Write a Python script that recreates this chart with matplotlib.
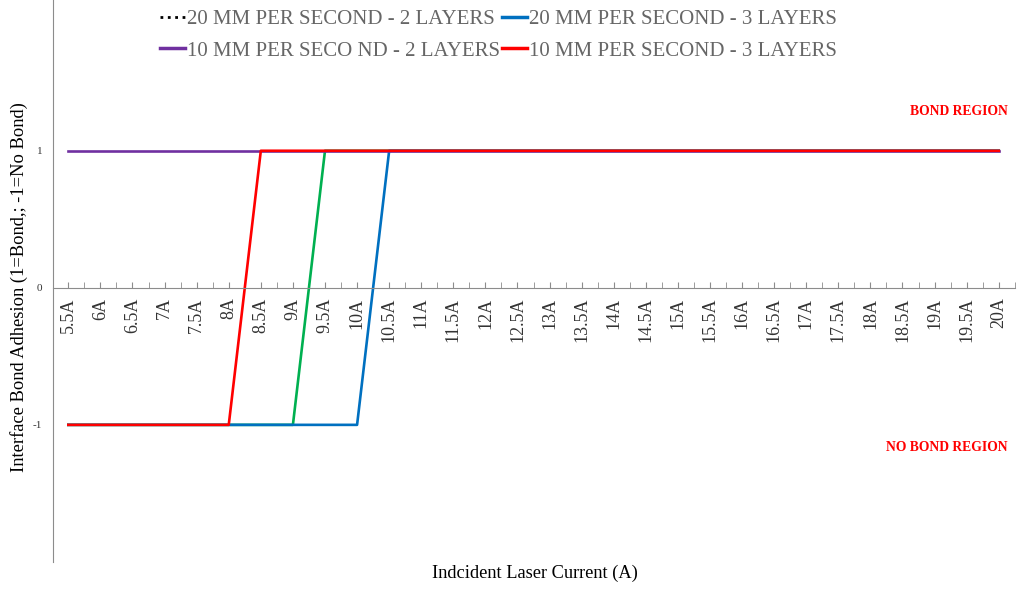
import matplotlib
matplotlib.use("Agg")
import matplotlib.pyplot as plt
from matplotlib.lines import Line2D
from matplotlib.ticker import MultipleLocator

plt.rcParams['font.family'] = ['Liberation Serif', 'DejaVu Serif']

currents = ["5.5A", "6A", "6.5A", "7A", "7.5A", "8A", "8.5A", "9A", "9.5A", "10A",
            "10.5A", "11A", "11.5A", "12A", "12.5A", "13A", "13.5A", "14A", "14.5A", "15A",
            "15.5A", "16A", "16.5A", "17A", "17.5A", "18A", "18.5A", "19A", "19.5A", "20A"]

# 1 = bond, -1 = no bond
mm20_2l = [-1, -1, -1, -1, -1, -1, -1, -1, 1, 1, 1, 1, 1, 1, 1,
           1, 1, 1, 1, 1, 1, 1, 1, 1, 1, 1, 1, 1, 1, 1]
mm20_3l = [-1, -1, -1, -1, -1, -1, -1, -1, -1, -1, 1, 1, 1, 1, 1,
           1, 1, 1, 1, 1, 1, 1, 1, 1, 1, 1, 1, 1, 1, 1]
mm10_2l = [1, 1, 1, 1, 1, 1, 1, 1, 1, 1, 1, 1, 1, 1, 1,
           1, 1, 1, 1, 1, 1, 1, 1, 1, 1, 1, 1, 1, 1, 1]
mm10_3l = [-1, -1, -1, -1, -1, -1, 1, 1, 1, 1, 1, 1, 1, 1, 1,
           1, 1, 1, 1, 1, 1, 1, 1, 1, 1, 1, 1, 1, 1, 1]

x = list(range(len(currents)))

fig = plt.figure(figsize=(10.24, 5.89), dpi=100)
ax = fig.add_axes([0.052, 0.046, 0.939, 0.954])

lw = 1.9
ax.plot(x, mm20_2l, color="#00B050", lw=lw)
ax.plot(x, mm20_3l, color="#0070C0", lw=lw)
ax.plot(x, mm10_2l, color="#7030A0", lw=lw)
ax.plot(x, mm10_3l, color="#FF0000", lw=lw)

ax.set_xlim(-0.47, 29.5)
ax.set_ylim(-2.0, 2.1)

# axis styling (excel look)
for s in ["top", "right"]:
    ax.spines[s].set_visible(False)
ax.spines["bottom"].set_position(("data", 0))
ax.spines["bottom"].set_color("#8c8c8c")
ax.spines["left"].set_color("#8c8c8c")

ax.set_xticks(x)
ax.set_xticklabels(currents, rotation=90, fontsize=13, color="#333333")
ax.xaxis.set_minor_locator(MultipleLocator(0.5))
ax.tick_params(axis="x", which="both", direction="in", length=4, color="#8c8c8c", pad=7)
ax.set_yticks([-1, 0, 1])
ax.set_yticklabels(["-1", "0", "1"], fontsize=8, color="#333333")
ax.tick_params(axis="y", length=0, pad=8)

fig.text(0.522, 0.027, "Indcident Laser Current (A)", ha="center", va="center", fontsize=13.2)
fig.text(0.019, 0.513, "Interface Bond Adhesion (1=Bond,; -1=No Bond)", rotation=90,
         ha="center", va="center", fontsize=13.3)

ax.text(0.984, 0.811, "BOND REGION", transform=fig.transFigure, ha="right", va="center",
        color="#FF0000", fontsize=9.8, fontweight="bold")
ax.text(0.984, 0.241, "NO BOND REGION", transform=fig.transFigure, ha="right", va="center",
        color="#FF0000", fontsize=9.8, fontweight="bold")

# legend handles: first entry shows a black dotted marker in the original
handles = [Line2D([], [], color="black", lw=2, linestyle=":"),
           Line2D([], [], color="#7030A0", lw=2.5),
           Line2D([], [], color="#0070C0", lw=2.5),
           Line2D([], [], color="#FF0000", lw=2.5)]
names = ["20 MM PER SECOND - 2 LAYERS", "10 MM PER SECO ND - 2 LAYERS",
         "20 MM PER SECOND - 3 LAYERS", "10 MM PER SECOND - 3 LAYERS"]
leg = fig.legend(handles, names, ncol=2, loc="upper center", bbox_to_anchor=(0.487, 1.015),
                 frameon=False, fontsize=15, handlelength=1.2, handletextpad=0.1,
                 columnspacing=0.1, labelspacing=0.55, labelcolor="#666666")

fig.savefig("out.png", dpi=100)
